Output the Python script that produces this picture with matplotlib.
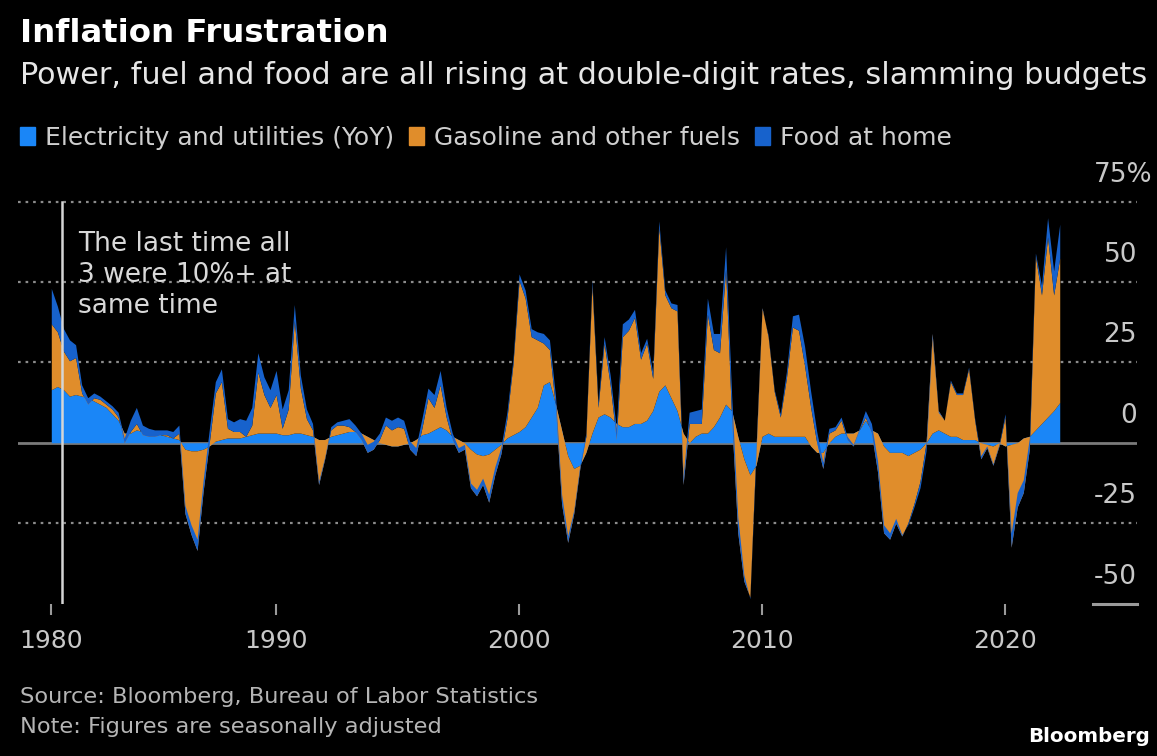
import numpy as np
import matplotlib.pyplot as plt
from matplotlib.patches import Patch
import matplotlib.transforms as mtransforms

# quarterly points, decimal years (Q4 1980 .. Q2 2022)
dates = np.arange(1980.75, 2022.3, 0.25)

# YoY % changes
electricity = [
    16.5, 17.5, 16.5, 14.5, 15,                  # 1980.75 - 1981.75
    14.5, 14, 13, 12,  11, 9, 7, 3,               # 1982 - 1983
    3, 4, 3.5, 3,  3, 2.5, 2, 1.5,                # 1984 - 1985
    1, -2, -2.5, -2.5,  -2, -1, 0.5, 1,           # 1986 - 1987
    1.5, 1.5, 1.5, 2,  2.5, 3, 3, 3,              # 1988 - 1989
    3, 2.5, 2.5, 3,  3, 2.5, 2, 1,                # 1990 - 1991
    1, 2, 2.5, 3,  3.5, 3.5, 3, 2,                # 1992 - 1993
    1, 0, -0.5, -1,  -1, -0.5, 0, 1,              # 1994 - 1995
    2.5, 3, 4, 5,  4, 2, 1, 0,                    # 1996 - 1997
    -2, -3.5, -4, -3.5,  -2, -0.5, 1.5, 2.5,      # 1998 - 1999
    3.5, 5, 8, 11,  18, 19, 12, 4,                # 2000 - 2001
    -4, -8, -7, -3,  3, 8, 9, 8,                  # 2002 - 2003
    6, 5, 5, 6,  6, 7, 10, 16,                    # 2004 - 2005
    18, 14, 10, 3,  0, 2, 3, 3,                   # 2006 - 2007
    5, 8, 12, 10,  2, -5, -10, -7,                # 2008 - 2009
    2, 3, 2, 2,  2, 2, 2, 2,                      # 2010 - 2011
    -1, -3, -3, 0,  2, 3, 3, 3,                   # 2012 - 2013
    4, 7, 4, 3,  -1, -3, -3, -3,                  # 2014 - 2015
    -4, -3, -2, 0,  3, 4, 3, 2,                   # 2016 - 2017
    2, 1, 1, 1,  0, -0.5, -1, 0,                  # 2018 - 2019
    -1, -0.5, 0, 1.5,  2, 4, 6, 8,                # 2020 - 2021
    10, 12.5,                                     # 2022
]
gasoline = [
    20.5, 17, 12, 11, 11.5,
    1, -2, 1, 1.5,  1, 1.5, 1, -3,
    0.5, 2, -1, -1,  -1, 0, 0.5, 0,
    2, -20, -26, -31,  -13, 1, 15, 18,
    3, 2, 2, 0,  3, 19, 12, 8,
    12, 2, 8, 35,  14, 5, 2, -14,
    -6, 2, 3, 2.5,  1.5, 0, -2, -5,
    -3, 1, 6, 5,  6, 5, -2, -5,
    2, 11, 7, 13,  4, -1, -4, -2,
    -12, -13, -9, -15,  -8, -3, 6, 22,
    47, 40, 25, 21,  13, 10, -1, -23,
    -27, -14, -1, 5,  46, 3, 22, 10,
    -5, 28, 30, 33,  20, 24, 10, 51,
    28, 28, 31, -16,  6, 4, 3, 37,
    24, 20, 42, -3,  -30, -38, -38, 5,
    40, 30, 14, 6,  18, 34, 33, 22,
    12, 3, -5, 3,  2, 4, -2, -4,
    0, 1, -1, -12,  -27, -27, -22, -26,
    -21, -16, -10, 0,  31, 6, 4, 17,
    13, 14, 22, 6,  -5, -1, -6, -1,
    9, -32, -20, -17,  -4, 54, 40, 56,
    36, 45,
]
food = [
    11, 8, 7, 6.5, 4,
    2.5, 2, 1.5, 1,  1, 1, 1.5, 1.5,
    3.5, 5, 3, 2.5,  2, 1.5, 1.5, 2,
    2.5, 2.5, 3, 3.5,  3.5, 4, 3.5, 4,
    3, 3, 4, 5,  5.5, 6, 5.5, 5.5,
    7.5, 6, 6, 5,  4, 3, 2, 1,
    0.5, 1, 1, 1.5,  2.5, 2, 2, 2.5,
    2.5, 2, 2.5, 3,  3, 2.5, 2.5, 2.5,
    3, 3, 4, 4.5,  3, 2, 1.5, 1.5,
    1.5, 2, 2, 2.5,  2.5, 2, 2, 1.5,
    2, 2.5, 2.5, 2.5,  3, 3, 3.5, 3,
    2, 1, 1, 1,  1.5, 1.5, 2, 3,
    3.5, 4, 3.5, 2.5,  2, 1.5, 2, 2,
    1.5, 1.5, 2, 2.5,  3.5, 4, 4.5, 5,
    5, 6, 7, 7.5,  5, 2, -0.5, -2,
    -0.5, 0.5, 0.5, 1,  2, 3.5, 5, 6,
    5, 3.5, 2, 1.5,  1, 1, 1, 0.5,
    0.5, 2, 3, 3.5,  2.5, 2, 1.5, 0.5,
    -0.5, -1, -2, -2.5,  -1.5, -0.5, 0, 0.5,
    0.5, 0.5, 0.5, 0.5,  1, 0.5, 0.5, 0.5,
    1, 4.5, 4.5, 4,  3.5, 1, 3, 6,
    7.5, 10.5,
]
series_names = ['Electricity and utilities (YoY)', 'Gasoline and other fuels', 'Food at home']
year_ticks = [1980.75, 1990, 2000, 2010, 2020]
year_labels = ['1980', '1990', '2000', '2010', '2020']
y_levels = [75, 50, 25, 0, -25, -50]
y_labels = ['75%', '50', '25', '0', '-25', '-50']

c_elec = '#1a86f7'
c_gas = '#e08d2b'
c_food = '#1762cc'
bg = 'black'
txt = '#d9d9d9'
grid_c = '#8c8c8c'

plt.rcParams['font.family'] = ['DejaVu Sans']

W, H = 1157, 756
fig = plt.figure(figsize=(W / 100, H / 100), dpi=100, facecolor=bg)

def px(x, y):
    return x / W, 1 - y / H

ax = fig.add_axes([18 / W, 1 - 603.5 / H, 1119 / W, 408.3 / H], facecolor=bg)
ax.set_xlim(1979.38, 2025.43)
ax.set_ylim(-50, 77)

e = np.array(electricity)
g = np.array(gasoline)
f = np.array(food)
s1 = e
s2 = e + g
s3 = s2 + f

# grid + zero line under the areas
for lv in [75, 50, 25, -25]:
    ax.axhline(lv, color=grid_c, lw=1.6, ls=(0, (1.2, 2.2)), zorder=1)
ax.axhline(0, color='#7a7a7a', lw=2, zorder=1)
ax.plot([0.961, 1.0], [-50, -50], color='#9a9a9a', lw=2.2,
        transform=ax.get_yaxis_transform(), clip_on=False, zorder=1)

ax.fill_between(dates, 0, s1, color=c_elec, lw=0, zorder=2)
ax.fill_between(dates, s1, s2, color=c_gas, lw=0, zorder=3)
ax.fill_between(dates, s2, s3, color=c_food, lw=0, zorder=4)

# marker line for the 1980/81 episode
ax.plot([1981.2, 1981.2], [-50, 75], color='#d5d5d5', lw=1.8, zorder=5)
ax.text(1981.85, 66, 'The last time all\n3 were 10%+ at\nsame time', color=txt,
        fontsize=19, va='top', ha='left', linespacing=1.25, zorder=6)

for sp in ax.spines.values():
    sp.set_visible(False)
ax.set_yticks([])
ax.set_xticks(year_ticks)
ax.set_xticklabels(year_labels)
ax.tick_params(axis='x', colors='#9a9a9a', length=8, width=1.5, pad=10,
               labelcolor='#c8c8c8', labelsize=18)

# right-hand value labels sit above their lines
off = mtransforms.offset_copy(ax.get_yaxis_transform(), fig=fig, x=0, y=27, units='dots')
for lv, lab in zip(y_levels, y_labels):
    xr = 1.0135 if lab.endswith('%') else 1.0
    ax.text(xr, lv, lab, transform=off, ha='right', va='center',
            color='#c8c8c8', fontsize=19)

fig.text(*px(20, 33), 'Inflation Frustration', color='white', fontsize=23.3,
         fontweight='bold', va='center', ha='left')
fig.text(*px(20, 75), 'Power, fuel and food are all rising at double-digit rates, slamming budgets',
         color='#e6e6e6', fontsize=21.8, va='center', ha='left')

handles = [Patch(color=c) for c in (c_elec, c_gas, c_food)]
fig.legend(handles, series_names, loc='center left', bbox_to_anchor=px(20, 138),
           ncol=3, frameon=False, fontsize=18, labelcolor='#cfcfcf',
           handlelength=0.6, handleheight=0.75, handletextpad=0.4,
           columnspacing=0.6, borderaxespad=0, borderpad=0)

fig.text(*px(20, 697), 'Source: Bloomberg, Bureau of Labor Statistics', color='#b5b5b5',
         fontsize=16.2, va='center', ha='left')
fig.text(*px(20, 727), 'Note: Figures are seasonally adjusted', color='#b5b5b5',
         fontsize=16.2, va='center', ha='left')
fig.text(*px(1150, 737), 'Bloomberg', color='white', fontsize=14.3, fontweight='bold',
         va='center', ha='right')

fig.savefig('out.png', dpi=100, facecolor=bg)
